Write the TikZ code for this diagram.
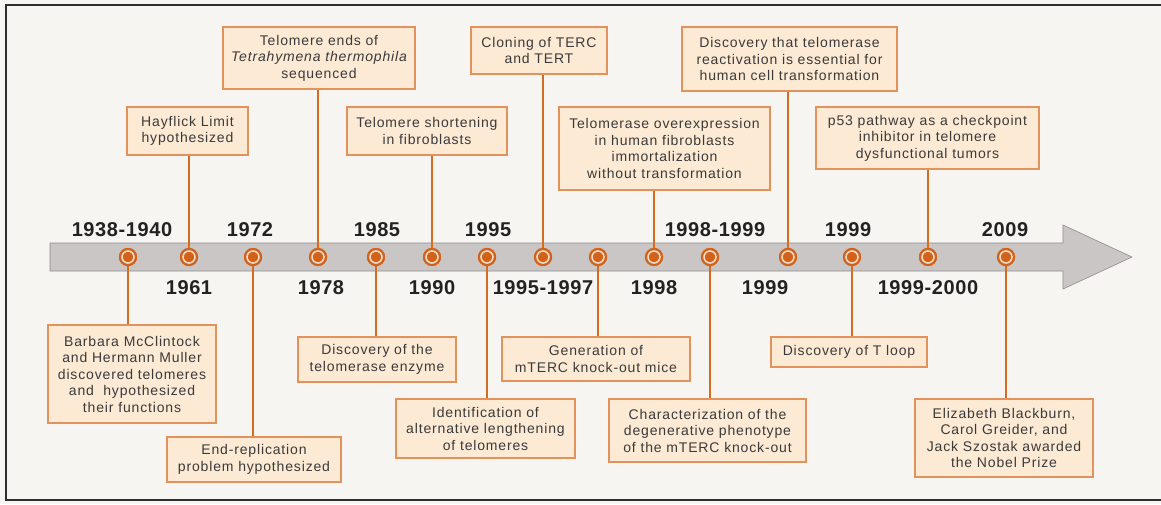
\documentclass[tikz,border=0pt]{standalone}
\usepackage{fontspec}
\usepackage{tikz}
\usetikzlibrary{calc}
\newfontfamily\boxfont[LetterSpace=6]{Liberation Sans}
\newfontfamily\yearfont[LetterSpace=3]{Liberation Sans}
\definecolor{pagebg}{HTML}{F6F5F1}
\definecolor{framecol}{HTML}{2E2E2E}
\definecolor{shaftfill}{HTML}{CAC6C6}
\definecolor{shaftline}{HTML}{8F8C8C}
\definecolor{boxfill}{HTML}{FCEAD4}
\definecolor{boxline}{HTML}{E2925A}
\definecolor{stemorange}{HTML}{D46D22}
\definecolor{beadorange}{HTML}{D2621A}
\definecolor{beadring}{HTML}{F3D9C4}
\definecolor{textgray}{HTML}{3A3A3A}
\definecolor{yeargray}{HTML}{222222}
\tikzset{
  event/.style={draw=boxline, fill=boxfill, line width=1.3pt, inner sep=0pt,
    align=center, text=textgray, font=\boxfont\fontsize{14}{16.5}\selectfont},
  year/.style={text=yeargray, inner sep=0pt, font=\yearfont\bfseries\fontsize{20}{24}\selectfont},
  bead/.style={circle, inner sep=0pt, minimum size=12pt, fill=beadorange,
    draw=beadorange, line width=2.2pt, double=beadring, double distance=1.6pt},
  stem/.style={draw=stemorange, line width=2pt}
}
\begin{document}
\begin{tikzpicture}[x=1pt,y=-1pt]
    \useasboundingbox (0,0) rectangle (1161,504);
    \fill[pagebg] (0,0) rectangle (1161,504);
    \draw[framecol,line width=1.6pt] (1161,5) -- (6,5) -- (6,500) -- (1161,500);

    % time arrow
    \draw[fill=shaftfill,draw=shaftline,line width=0.6pt] (50,243) -- (1063,243) -- (1063,225)
      -- (1132,257) -- (1063,289) -- (1063,271) -- (50,271) -- cycle;

    % events above the arrow
    \node[event,minimum width=121,minimum height=48] (hayflick) at (187.5,131) {Hayflick Limit\\hypothesized};
    \node[event,minimum width=192,minimum height=62] (tetra) at (319,58) {Telomere ends of\\\itshape Tetrahymena thermophila\\sequenced};
    \node[event,minimum width=160,minimum height=48] (shorten) at (427,131) {Telomere shortening\\in fibroblasts};
    \node[event,minimum width=136,minimum height=47] (cloning) at (539,50.5) {Cloning of TERC\\and TERT};
    \node[event,minimum width=211,minimum height=83] (overexp) at (664.5,148.5) {Telomerase overexpression\\in human fibroblasts\\immortalization\\without transformation};
    \node[event,minimum width=215,minimum height=64] (reactiv) at (789.5,59) {Discovery that telomerase\\reactivation is essential for\\human cell transformation};
    \node[event,minimum width=223,minimum height=62] (ptf) at (927.5,138) {p53 pathway as a checkpoint\\inhibitor in telomere\\dysfunctional tumors};

    % events below the arrow
    \node[event,minimum width=168,minimum height=98] (mcclint) at (132,374) {Barbara McClintock\\and Hermann Muller\\discovered telomeres\\and\ \ hypothesized\\their functions};
    \node[event,minimum width=174,minimum height=45] (endrep) at (254,459.5) {End-replication\\problem hypothesized};
    \node[event,minimum width=158,minimum height=45] (enzyme) at (377,359.5) {Discovery of the\\telomerase enzyme};
    \node[event,minimum width=179,minimum height=59] (altlen) at (485.5,428.5) {Identification of\\alternative lengthening\\of telomeres};
    \node[event,minimum width=188,minimum height=44] (mterc) at (596,359) {Generation of\\mTERC knock-out mice};
    \node[event,minimum width=197,minimum height=63] (charac) at (707.5,430.5) {Characterization of the\\degenerative phenotype\\of the mTERC knock-out};
    \node[event,minimum width=156,minimum height=30] (tloop) at (849,352) {Discovery of T loop};
    \node[event,minimum width=178,minimum height=78] (nobel) at (1004,438) {Elizabeth Blackburn,\\Carol Greider, and\\Jack Szostak awarded\\the Nobel Prize};

    % beads on the arrow
    \foreach \n/\x in {1/128,2/189,3/253,4/318,5/376,6/432,7/487,8/543,
                       9/598,10/654,11/710,12/788,13/852,14/928,15/1006}
      \node[bead] (d\n) at (\x,257) {};

    % stems
    \draw[stem] (d2) -- (d2 |- hayflick.south);
    \draw[stem] (d4) -- (d4 |- tetra.south);
    \draw[stem] (d6) -- (d6 |- shorten.south);
    \draw[stem] (d8) -- (d8 |- cloning.south);
    \draw[stem] (d10) -- (d10 |- overexp.south);
    \draw[stem] (d12) -- (d12 |- reactiv.south);
    \draw[stem] (d14) -- (d14 |- ptf.south);
    \draw[stem] (d1) -- (d1 |- mcclint.north);
    \draw[stem] (d3) -- (d3 |- endrep.north);
    \draw[stem] (d5) -- (d5 |- enzyme.north);
    \draw[stem] (d7) -- (d7 |- altlen.north);
    \draw[stem] (d9) -- (d9 |- mterc.north);
    \draw[stem] (d11) -- (d11 |- charac.north);
    \draw[stem] (d13) -- (d13 |- tloop.north);
    \draw[stem] (d15) -- (d15 |- nobel.north);
    \foreach \n in {1,...,15} \node[bead] at (d\n) {};

    % years
    \node[year] (y1938) at (122,230) {1938-1940};
    \node[year] (y1972) at (250,230) {1972};
    \node[year] (y1985) at (377,230) {1985};
    \node[year] (y1995) at (488,230) {1995};
    \node[year] (y1998b) at (715,230) {1998-1999};
    \node[year] (y1999b) at (848,230) {1999};
    \node[year] (y2009) at (1005,230) {2009};
    \node[year] (y1961) at (189,288) {1961};
    \node[year] (y1978) at (321,288) {1978};
    \node[year] (y1990) at (432,288) {1990};
    \node[year] (y1995c) at (543,288) {1995-1997};
    \node[year] (y1998) at (654,288) {1998};
    \node[year] (y1999) at (765,288) {1999};
    \node[year] (y1999d) at (928,288) {1999-2000};
\end{tikzpicture}
\end{document}
